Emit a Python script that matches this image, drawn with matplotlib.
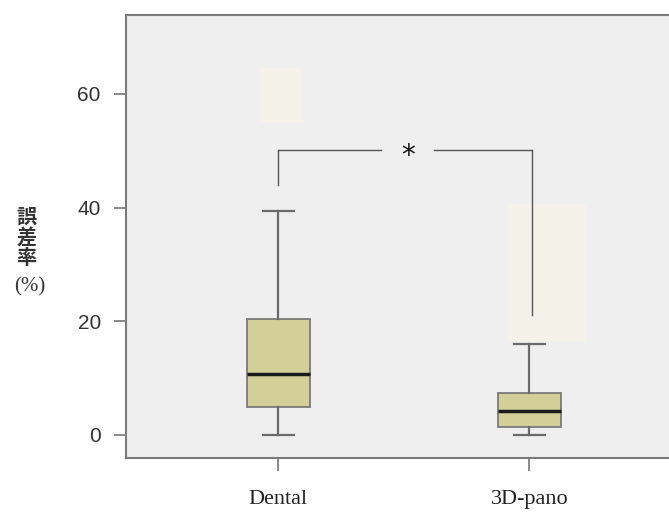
import matplotlib.pyplot as plt
from matplotlib.patches import Rectangle

plt.rcParams['font.family'] = ['Liberation Sans', 'DejaVu Sans']

groups = ['Dental', '3D-pano']
positions = [1, 2]
whislo = [0.0, 0.0]
q1 = [4.9, 1.4]
med = [10.7, 4.2]
q3 = [20.4, 7.4]
whishi = [39.4, 16.0]

# significance bracket
brk_left = [44.0, 50.1]
brk_right = [21.1, 50.1]

stats = []
for i in range(len(groups)):
    stats.append(dict(whislo=whislo[i], q1=q1[i], med=med[i], q3=q3[i],
                      whishi=whishi[i], fliers=[], label=groups[i]))

fig = plt.figure(figsize=(6.69, 5.14), dpi=100)
ax = fig.add_axes([0.188, 0.109, 0.815, 0.862])
ax.set_facecolor('#efefef')

# faint patches left over in the original image
ax.add_patch(Rectangle((0.928, 55.0), 0.168, 9.5, color='#f4f1e9', lw=0, zorder=0.5))
ax.add_patch(Rectangle((1.916, 16.4), 0.308, 24.2, color='#f4f1e9', lw=0, zorder=0.5))

ax.bxp(stats, positions=positions, widths=0.252, patch_artist=True,
       showfliers=False,
       boxprops=dict(facecolor='#d4cf98', edgecolor='#7a7a7a', linewidth=1.3),
       medianprops=dict(color='#1a1a1a', linewidth=2.5),
       whiskerprops=dict(color='#6a6a6a', linewidth=1.6),
       capprops=dict(color='#6a6a6a', linewidth=1.6),
       capwidths=0.126)

# bracket with gap for the star
lc = '#555555'
ax.plot([1, 1], brk_left, color=lc, lw=1)
ax.plot([1, 1.41], [brk_left[1], brk_left[1]], color=lc, lw=1)
ax.plot([1.62, 2.01], [brk_right[1], brk_right[1]], color=lc, lw=1)
ax.plot([2.01, 2.01], brk_right, color=lc, lw=1)
ax.text(1.515, 49.0, '*', ha='center', va='center', fontsize=20, color='#111111',
        family='DejaVu Sans')

ax.set_xlim(0.392, 2.564)
ax.set_ylim(-4.05, 73.9)
ax.set_yticks([0, 20, 40, 60])
ax.set_xticks(positions)
ax.set_xticklabels(groups, family='Liberation Serif', fontsize=16, color='#222222')
ax.tick_params(axis='y', labelsize=15, length=9, width=1.2, color='#777777',
               labelcolor='#333333', pad=9)
ax.tick_params(axis='x', length=9, width=1.2, color='#777777', pad=14)

for s in ax.spines.values():
    s.set_color('#7a7a7a')
    s.set_linewidth(1.5)

fig.text(0.040, 0.539, '誤\n差\n率', ha='center', va='center', fontsize=14.5,
         fontweight='bold', family=['Noto Sans CJK JP'], color='#333333',
         linespacing=1.0)
fig.text(0.045, 0.442, '(%)', ha='center', va='center', fontsize=15,
         family='Liberation Serif', color='#333333')

fig.savefig('out.png', dpi=100)
